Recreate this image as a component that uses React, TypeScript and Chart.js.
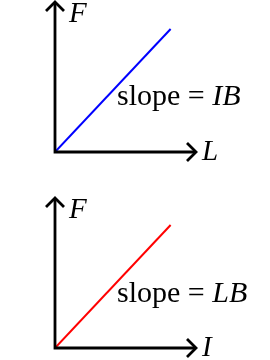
import React, { useEffect, useRef } from "react";
import { Chart, registerables } from "chart.js";

Chart.register(...registerables);

// Panel 1: F vs L
const topXLabel = "L";
const topYLabel = "F";
const topLineX = [0, 0.82];
const topLineY = [0, 0.82];
const topSlopeText = ["slope = ", "IB"];
const topColor = "#0000ff";

// Panel 2: F vs I
const botXLabel = "I";
const botYLabel = "F";
const botLineX = [0, 0.82];
const botLineY = [0, 0.82];
const botSlopeText = ["slope = ", "LB"];
const botColor = "#ff0000";

type PanelProps = {
  xLabel: string;
  yLabel: string;
  xs: number[];
  ys: number[];
  slope: string[];
  color: string;
  padTop: number;
  padBottom: number;
  textAt: { x: number; y: number };
};

const FONT = "'Liberation Serif', 'Times New Roman', serif";

function Panel(p: PanelProps) {
  const ref = useRef<HTMLCanvasElement | null>(null);
  useEffect(() => {
    if (!ref.current) return;
    const axesPlugin = {
      id: "axesArrows",
      afterDatasetsDraw(chart: any) {
        const ctx = chart.ctx as CanvasRenderingContext2D;
        const { left, right, top, bottom } = chart.chartArea;
        ctx.save();
        ctx.strokeStyle = "#000";
        ctx.lineWidth = 2.8;
        ctx.lineCap = "butt";
        ctx.lineJoin = "miter";
        ctx.beginPath();
        ctx.moveTo(left, top + 1);
        ctx.lineTo(left, bottom);
        ctx.lineTo(right - 1, bottom);
        ctx.stroke();
        const a = 9;
        ctx.beginPath();
        ctx.moveTo(left - a, top + a);
        ctx.lineTo(left, top);
        ctx.lineTo(left + a, top + a);
        ctx.stroke();
        ctx.beginPath();
        ctx.moveTo(right - a, bottom - a);
        ctx.lineTo(right, bottom);
        ctx.lineTo(right - a, bottom + a);
        ctx.stroke();

        ctx.fillStyle = "#000";
        ctx.textBaseline = "alphabetic";
        ctx.font = `italic 29px ${FONT}`;
        ctx.fillText(p.yLabel, left + 14, top + 20);
        ctx.fillText(p.xLabel, right + 6, bottom + 8);

        const sx = chart.scales.x.getPixelForValue(p.textAt.x);
        const sy = chart.scales.y.getPixelForValue(p.textAt.y);
        ctx.font = `30px ${FONT}`;
        ctx.fillText(p.slope[0], sx, sy);
        const w = ctx.measureText(p.slope[0]).width;
        ctx.font = `italic 30px ${FONT}`;
        ctx.fillText(p.slope[1], sx + w, sy);
        ctx.restore();
      },
    };
    const chart = new Chart(ref.current, {
      type: "scatter",
      data: {
        datasets: [
          {
            data: p.xs.map((x, i) => ({ x, y: p.ys[i] })),
            showLine: true,
            borderColor: p.color,
            borderWidth: 2,
            pointRadius: 0,
            fill: false,
          },
        ],
      },
      options: {
        animation: false,
        responsive: false,
        events: [],
        layout: { padding: { left: 55, right: 74, top: p.padTop, bottom: p.padBottom } },
        plugins: { legend: { display: false }, tooltip: { enabled: false } },
        scales: {
          x: { type: "linear", min: 0, max: 1, display: false },
          y: { type: "linear", min: 0, max: 1, display: false },
        },
      },
      plugins: [axesPlugin],
    });
    return () => chart.destroy();
  }, []);
  return <canvas ref={ref} width={270} height={180} style={{ display: "block", width: 270, height: 180 }} />;
}

export default function App() {
  useEffect(() => {
    document.body.style.margin = "0";
    document.body.style.background = "#fff";
  }, []);
  return (
    <div style={{ position: "absolute", left: 0, top: 0, width: 270, height: 360, background: "#fff" }}>
      <Panel
        xLabel={topXLabel}
        yLabel={topYLabel}
        xs={topLineX}
        ys={topLineY}
        slope={topSlopeText}
        color={topColor}
        padTop={2}
        padBottom={28}
        textAt={{ x: 0.44, y: 0.313 }}
      />
      <Panel
        xLabel={botXLabel}
        yLabel={botYLabel}
        xs={botLineX}
        ys={botLineY}
        slope={botSlopeText}
        color={botColor}
        padTop={18}
        padBottom={12}
        textAt={{ x: 0.44, y: 0.307 }}
      />
    </div>
  );
}
